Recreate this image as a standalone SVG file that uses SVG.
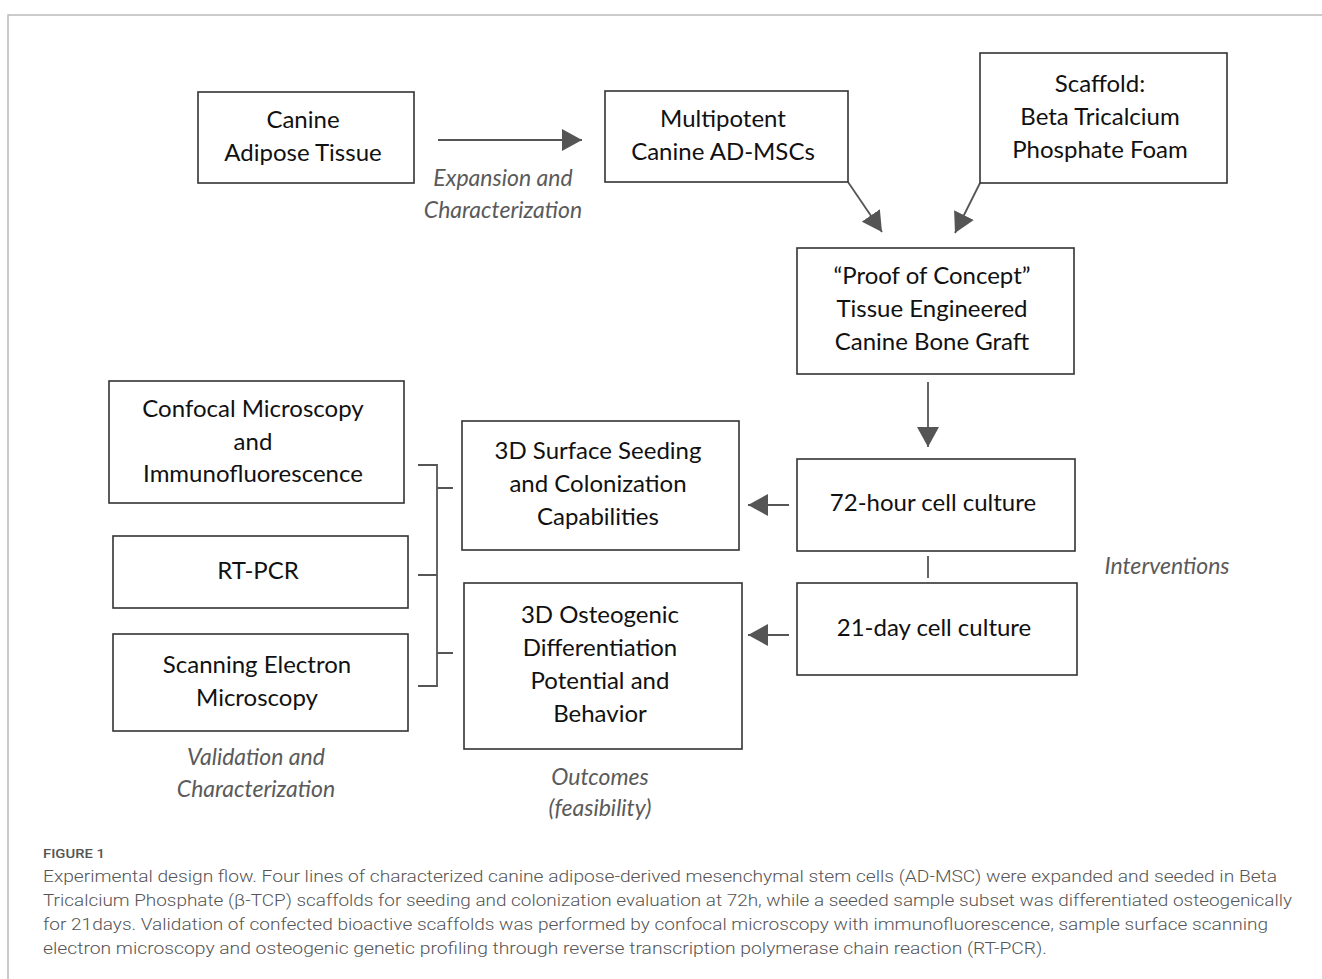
<svg xmlns="http://www.w3.org/2000/svg" width="1322" height="979" viewBox="0 0 1322 979">
<defs>
<style>
.box{fill:#fff;stroke:#333;stroke-width:1.6}
.t{font-family:Lato,"Open Sans","Liberation Sans",sans-serif;font-size:24px;fill:#111;text-anchor:middle}
.it{font-family:Lato,"Open Sans","Liberation Sans",sans-serif;font-size:23px;font-style:italic;fill:#5a5a5a;text-anchor:middle}
.con{stroke:#555;stroke-width:1.8;fill:none}
.cap{font-family:Roboto,"Noto Sans","Liberation Sans",sans-serif;font-weight:300;font-size:17px;fill:#555}
</style>
<marker id="ah" markerUnits="userSpaceOnUse" markerWidth="22" markerHeight="22" refX="20" refY="11" orient="auto" viewBox="0 0 22 22">
<path d="M0,0 L20,11 L0,22 z" fill="#555"/>
</marker>
</defs>
<rect width="1322" height="979" fill="#fff"/>
<path d="M8,979 V15 H1322" fill="none" stroke="#bbb" stroke-width="1.5"/>

<g id="connectors">
<line class="con" x1="438" y1="140" x2="582" y2="140" marker-end="url(#ah)"/>
<line class="con" x1="848" y1="182" x2="882" y2="232" marker-end="url(#ah)"/>
<line class="con" x1="980" y1="183" x2="955" y2="233" marker-end="url(#ah)"/>
<line class="con" x1="928" y1="382" x2="928" y2="447" marker-end="url(#ah)"/>
<line class="con" x1="928" y1="556" x2="928" y2="578"/>
<line class="con" x1="789" y1="505" x2="748" y2="505" marker-end="url(#ah)"/>
<line class="con" x1="789" y1="635" x2="748" y2="635" marker-end="url(#ah)"/>
<path class="con" d="M418,465 H437 V686 H418 M418,575 H437 M437,488 H453 M437,653 H453"/>
</g>

<g id="canine-adipose">
<rect class="box" x="198" y="92" width="216" height="91"/>
<text class="t" x="303" y="128">Canine</text>
<text class="t" x="303" y="161">Adipose Tissue</text>
</g>
<text class="it" x="503" y="186">Expansion and</text>
<text class="it" x="503" y="218">Characterization</text>

<g id="multipotent">
<rect class="box" x="605" y="91" width="243" height="91"/>
<text class="t" x="723" y="127">Multipotent</text>
<text class="t" x="723" y="160">Canine AD-MSCs</text>
</g>

<g id="scaffold">
<rect class="box" x="980" y="53" width="247" height="130"/>
<text class="t" x="1100" y="92">Scaffold:</text>
<text class="t" x="1100" y="125">Beta Tricalcium</text>
<text class="t" x="1100" y="158">Phosphate Foam</text>
</g>

<g id="proof">
<rect class="box" x="797" y="248" width="277" height="126"/>
<text class="t" x="932" y="284">“Proof of Concept”</text>
<text class="t" x="932" y="317">Tissue Engineered</text>
<text class="t" x="932" y="350">Canine Bone Graft</text>
</g>

<g id="culture72">
<rect class="box" x="797" y="459" width="278" height="92"/>
<text class="t" x="933" y="511">72-hour cell culture</text>
</g>

<g id="culture21">
<rect class="box" x="797" y="583" width="280" height="92"/>
<text class="t" x="934" y="636">21-day cell culture</text>
</g>
<text class="it" x="1167" y="574">Interventions</text>

<g id="surface-seeding">
<rect class="box" x="462" y="421" width="277" height="129"/>
<text class="t" x="598" y="459">3D Surface Seeding</text>
<text class="t" x="598" y="492">and Colonization</text>
<text class="t" x="598" y="525">Capabilities</text>
</g>

<g id="osteogenic">
<rect class="box" x="464" y="583" width="278" height="166"/>
<text class="t" x="600" y="623">3D Osteogenic</text>
<text class="t" x="600" y="656">Differentiation</text>
<text class="t" x="600" y="689">Potential and</text>
<text class="t" x="600" y="722">Behavior</text>
</g>
<text class="it" x="600" y="785">Outcomes</text>
<text class="it" x="600" y="816">(feasibility)</text>

<g id="confocal">
<rect class="box" x="109" y="381" width="295" height="122"/>
<text class="t" x="253" y="417">Confocal Microscopy</text>
<text class="t" x="253" y="450">and</text>
<text class="t" x="253" y="482">Immunofluorescence</text>
</g>

<g id="rtpcr">
<rect class="box" x="113" y="536" width="295" height="72"/>
<text class="t" x="258" y="579">RT-PCR</text>
</g>

<g id="sem">
<rect class="box" x="113" y="634" width="295" height="97"/>
<text class="t" x="257" y="673">Scanning Electron</text>
<text class="t" x="257" y="706">Microscopy</text>
</g>
<text class="it" x="256" y="765">Validation and</text>
<text class="it" x="256" y="797">Characterization</text>

<text x="43" y="858" font-family="Roboto,'Liberation Sans',sans-serif" font-size="13" font-weight="500" fill="#555" textLength="62" lengthAdjust="spacingAndGlyphs">FIGURE 1</text>
<text class="cap" x="43" y="882" textLength="1234" lengthAdjust="spacingAndGlyphs">Experimental design flow. Four lines of characterized canine adipose-derived mesenchymal stem cells (AD-MSC) were expanded and seeded in Beta</text>
<text class="cap" x="43" y="906" textLength="1249" lengthAdjust="spacingAndGlyphs">Tricalcium Phosphate (β-TCP) scaffolds for seeding and colonization evaluation at 72h, while a seeded sample subset was differentiated osteogenically</text>
<text class="cap" x="43" y="930" textLength="1225" lengthAdjust="spacingAndGlyphs">for 21days. Validation of confected bioactive scaffolds was performed by confocal microscopy with immunofluorescence, sample surface scanning</text>
<text class="cap" x="43" y="954" textLength="1004" lengthAdjust="spacingAndGlyphs">electron microscopy and osteogenic genetic profiling through reverse transcription polymerase chain reaction (RT-PCR).</text>
</svg>
